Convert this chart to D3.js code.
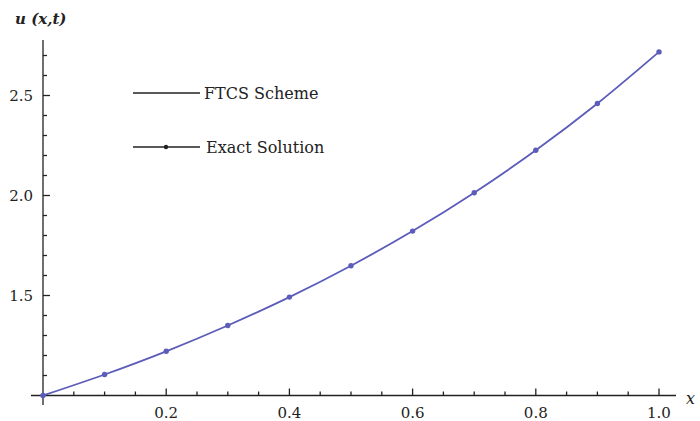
<!DOCTYPE html>
<html>
<head>
<meta charset="utf-8">
<script src="https://cdn.jsdelivr.net/npm/d3@7"></script>
<style>
  html, body { margin: 0; padding: 0; background: #fff; }
  svg { display: block; }
  text { font-family: "DejaVu Serif", "Liberation Serif", serif; fill: #222; }
</style>
</head>
<body>
<svg id="chart" width="700" height="421"></svg>
<script>
// Grid points in x and the solution values u(x,t) at those points
const xs = [0, 0.1, 0.2, 0.3, 0.4, 0.5, 0.6, 0.7, 0.8, 0.9, 1.0];
const exactValues = [1.000, 1.105, 1.221, 1.350, 1.492, 1.649, 1.822, 2.014, 2.226, 2.460, 2.718];
const ftcsValues  = [1.000, 1.105, 1.221, 1.350, 1.492, 1.649, 1.822, 2.014, 2.226, 2.460, 2.718];

const xTickLabels = ["0.2", "0.4", "0.6", "0.8", "1.0"];
const yTickLabels = ["1.5", "2.0", "2.5"];
const legendLabels = ["FTCS Scheme", "Exact Solution"];

const svg = d3.select("#chart");
const curveColor = "#5c5cba";

const x = d3.scaleLinear().domain([0, 1]).range([43, 659]);
const y = d3.scaleLinear().domain([1, 2.5]).range([395.5, 95.5]);

// Axes crossing at (0, 1): ticks point inward
const xMajor = xTickLabels.map(Number);
const xMinor = d3.range(1, 21).map(i => i * 0.05).filter(v => !xMajor.some(m => Math.abs(m - v) < 1e-9));
const yMajor = yTickLabels.map(Number);
const yMinor = d3.range(1, 18).map(i => 1 + i * 0.1).filter(v => !yMajor.some(m => Math.abs(m - v) < 1e-9));

const axisG = svg.append("g").attr("stroke", "#222").attr("stroke-width", 1.3);
axisG.append("line").attr("x1", 31).attr("x2", 676).attr("y1", y(1)).attr("y2", y(1));
axisG.append("line").attr("x1", x(0)).attr("x2", x(0)).attr("y1", 40).attr("y2", 405);

axisG.selectAll(".xmaj").data(xMajor).join("line")
  .attr("x1", d => x(d)).attr("x2", d => x(d))
  .attr("y1", y(1)).attr("y2", y(1) - 7);
axisG.selectAll(".xmin").data(xMinor).join("line")
  .attr("x1", d => x(d)).attr("x2", d => x(d))
  .attr("y1", y(1)).attr("y2", y(1) - 4);
axisG.selectAll(".ymaj").data(yMajor).join("line")
  .attr("x1", x(0)).attr("x2", x(0) + 7)
  .attr("y1", d => y(d)).attr("y2", d => y(d));
axisG.selectAll(".ymin").data(yMinor).join("line")
  .attr("x1", x(0)).attr("x2", x(0) + 4)
  .attr("y1", d => y(d)).attr("y2", d => y(d));

// Tick labels
svg.selectAll(".xlab").data(xTickLabels).join("text")
  .attr("x", d => x(+d)).attr("y", 418)
  .attr("text-anchor", "middle").attr("font-size", 15)
  .text(d => d);
svg.selectAll(".ylab").data(yTickLabels).join("text")
  .attr("x", 33).attr("y", d => y(+d) + 5.5)
  .attr("text-anchor", "end").attr("font-size", 15)
  .text(d => d);

// Axis titles
svg.append("text").attr("x", 15).attr("y", 24)
  .attr("font-size", 15).attr("font-style", "italic").attr("font-weight", "bold")
  .text("u (x,t)");
svg.append("text").attr("x", 686).attr("y", 404)
  .attr("font-size", 16).attr("font-style", "italic")
  .text("x");

// FTCS curve
const line = d3.line().x(d => x(d[0])).y(d => y(d[1])).curve(d3.curveMonotoneX);
svg.append("path")
  .datum(xs.map((v, i) => [v, ftcsValues[i]]))
  .attr("d", line)
  .attr("fill", "none").attr("stroke", curveColor).attr("stroke-width", 1.8);

// Exact solution points
svg.selectAll(".pt").data(xs.map((v, i) => [v, exactValues[i]])).join("circle")
  .attr("cx", d => x(d[0])).attr("cy", d => y(d[1]))
  .attr("r", 2.7).attr("fill", curveColor);

// Legend
const legend = svg.append("g");
legend.append("line").attr("x1", 133).attr("x2", 200).attr("y1", 93).attr("y2", 93)
  .attr("stroke", "#222").attr("stroke-width", 1.3);
legend.append("text").attr("x", 204).attr("y", 99).attr("font-size", 16).text(legendLabels[0]);
legend.append("line").attr("x1", 133).attr("x2", 200).attr("y1", 147).attr("y2", 147)
  .attr("stroke", "#222").attr("stroke-width", 1.3);
legend.append("circle").attr("cx", 166).attr("cy", 147).attr("r", 2.2).attr("fill", "#222");
legend.append("text").attr("x", 206).attr("y", 153).attr("font-size", 16).text(legendLabels[1]);
</script>
</body>
</html>
